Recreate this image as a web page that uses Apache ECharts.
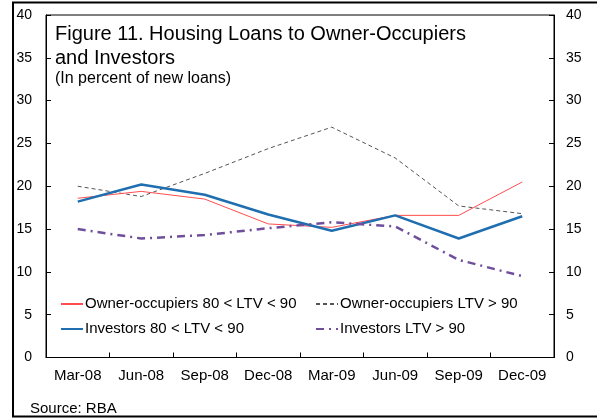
<!DOCTYPE html>
<html>
<head>
<meta charset="utf-8">
<script src="https://cdn.jsdelivr.net/npm/echarts@6/dist/echarts.min.js"></script>
<style>
html,body{margin:0;padding:0;background:#fff;}
#c{width:597px;height:419px;}
</style>
</head>
<body>
<div id="c"></div>
<script>
const categories = ['Mar-08','Jun-08','Sep-08','Dec-08','Mar-09','Jun-09','Sep-09','Dec-09'];
const ownerMid = [18.6, 19.4, 18.5, 15.6, 15.2, 16.6, 16.6, 20.5];
const ownerHigh = [20.0, 18.8, 21.5, 24.4, 26.9, 23.3, 17.7, 16.8];
const investorMid = [18.2, 20.2, 19.0, 16.7, 14.8, 16.6, 13.9, 16.5];
const investorHigh = [15.0, 13.9, 14.3, 15.1, 15.8, 15.3, 11.4, 9.5];
const yTicks = [0, 5, 10, 15, 20, 25, 30, 35, 40];

const FONT = 'Liberation Sans, Arial, sans-serif';
const chart = echarts.init(document.getElementById('c'), null, {renderer: 'canvas'});

const yAxisBase = {
  type: 'value',
  min: yTicks[0],
  max: yTicks[yTicks.length - 1],
  interval: yTicks[1] - yTicks[0],
  axisLine: {show: true, lineStyle: {color: '#000', width: 1}},
  axisTick: {show: true, inside: true, length: 5, lineStyle: {color: '#000'}},
  splitLine: {show: false},
  axisLabel: {color: '#000', fontSize: 14, fontFamily: FONT}
};

const legendBase = {
  orient: 'vertical', top: 296, padding: 0,
  itemWidth: 22, itemHeight: 14, itemGap: 9,
  itemStyle: {opacity: 0},
  textStyle: {fontSize: 15, color: '#000', fontFamily: FONT, lineHeight: 16, padding: [0, 0, 0, -3]}
};

chart.setOption({
  animation: false,
  backgroundColor: '#fff',
  title: [
    {
      text: 'Figure 11. Housing Loans to Owner-Occupiers\nand Investors',
      left: 55, top: 22, padding: 0,
      textStyle: {fontSize: 20, fontWeight: 'normal', color: '#000', fontFamily: FONT, lineHeight: 24}
    },
    {
      text: '(In percent of new loans)',
      left: 55, top: 70, padding: 0,
      textStyle: {fontSize: 16, fontWeight: 'normal', color: '#000', fontFamily: FONT, lineHeight: 17}
    },
    {
      text: 'Source: RBA',
      left: 30, top: 400, padding: 0,
      textStyle: {fontSize: 15, fontWeight: 'normal', color: '#000', fontFamily: FONT, lineHeight: 17}
    }
  ],
  grid: {
    left: 46, right: 43, top: 15, bottom: 61.5,
    show: true, borderColor: '#000', borderWidth: 1,
    containLabel: false, outerBoundsMode: 'none'
  },
  legend: [
    Object.assign({}, legendBase, {left: 60, data: ['Owner-occupiers 80 < LTV < 90', 'Investors 80 < LTV < 90']}),
    Object.assign({}, legendBase, {left: 315, data: ['Owner-occupiers LTV > 90', 'Investors LTV > 90']})
  ],
  xAxis: {
    type: 'category',
    data: categories,
    boundaryGap: true,
    axisLine: {show: true, lineStyle: {color: '#000', width: 1}},
    axisTick: {show: true, inside: true, length: 5, lineStyle: {color: '#000'}},
    axisLabel: {color: '#000', fontSize: 15, fontFamily: FONT, margin: 11, interval: 0},
    splitLine: {show: false}
  },
  yAxis: [
    Object.assign({}, yAxisBase, {position: 'left', axisLabel: Object.assign({}, yAxisBase.axisLabel, {margin: 14})}),
    Object.assign({}, yAxisBase, {position: 'right', axisLabel: Object.assign({}, yAxisBase.axisLabel, {margin: 12})})
  ],
  series: [
    {
      name: 'Owner-occupiers 80 < LTV < 90', type: 'line', data: ownerMid,
      symbol: 'none', color: '#ff4d4d', lineStyle: {color: '#ff4d4d', width: 1}, z: 3
    },
    {
      name: 'Owner-occupiers LTV > 90', type: 'line', data: ownerHigh,
      symbol: 'none', color: '#555555', lineStyle: {color: '#555555', width: 1, type: [4, 3]}, z: 2
    },
    {
      name: 'Investors 80 < LTV < 90', type: 'line', data: investorMid,
      symbol: 'none', color: '#1f6fb0', lineStyle: {color: '#1f6fb0', width: 2.5}, z: 4
    },
    {
      name: 'Investors LTV > 90', type: 'line', data: investorHigh,
      symbol: 'none', color: '#6f4f9c', lineStyle: {color: '#6f4f9c', width: 2.5, type: [8, 5, 2, 5]}, z: 4
    }
  ],
  graphic: [
    {type: 'line', shape: {x1: 13, y1: 2, x2: 13, y2: 417}, style: {stroke: '#000', lineWidth: 2}},
    {type: 'line', shape: {x1: 12, y1: 2.5, x2: 597, y2: 2.5}, style: {stroke: '#000', lineWidth: 2}},
    {type: 'line', shape: {x1: 12, y1: 416.5, x2: 597, y2: 416.5}, style: {stroke: '#000', lineWidth: 2}}
  ]
});
</script>
</body>
</html>
